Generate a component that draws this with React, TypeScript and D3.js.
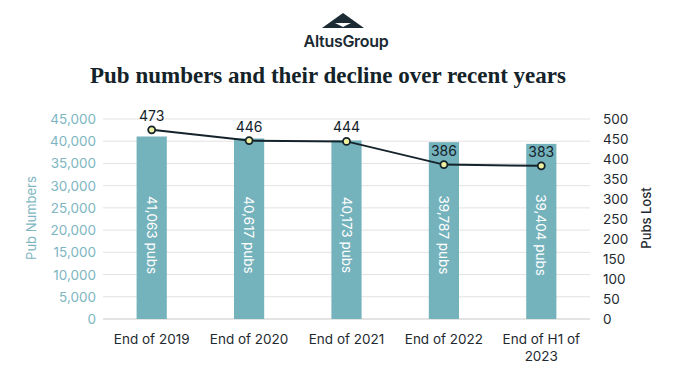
import React from "react";
import * as d3 from "d3";

const categories = ["End of 2019", "End of 2020", "End of 2021", "End of 2022", "End of H1 of 2023"];
const pubNumbers = [41063, 40617, 40173, 39787, 39404];
const pubsLost = [473, 446, 444, 386, 383];
const leftTicks = [0, 5000, 10000, 15000, 20000, 25000, 30000, 35000, 40000, 45000];
const rightTicks = [0, 50, 100, 150, 200, 250, 300, 350, 400, 450, 500];

const W = 674, H = 368;
const FONT = "Inter, 'Open Sans', sans-serif";

export default function App() {
  const x = d3.scaleBand<string>().domain(categories).range([103, 590]).paddingInner(0.69).paddingOuter(0.345);
  const yL = d3.scaleLinear().domain([0, 45000]).range([319, 119]);
  const yR = d3.scaleLinear().domain([0, 500]).range([319, 119]);
  const fmt = d3.format(",");
  const cx = (c: string) => (x(c) ?? 0) + x.bandwidth() / 2;
  const line = d3.line<number>().x((_, i) => cx(categories[i])).y((d) => yR(d));

  return (
    <svg width={W} height={H} style={{ position: "absolute", left: 0, top: 0, background: "#fff" }}>
      {/* logo */}
      <path d="M343,13 L364,28 L322,28 Z" fill="#1b2a33" />
      <path d="M335,23 L351,23 L343,27 Z" fill="#fff" />
      <text x={346} y={47} textAnchor="middle" fontFamily={FONT} fontSize={16} fontWeight={600} fill="#1b2a33" letterSpacing={-0.3}>AltusGroup</text>
      <text x={328} y={83} textAnchor="middle" fontFamily="'Liberation Serif', 'DejaVu Serif', serif" fontSize={23} fontWeight={700} fill="#142229">Pub numbers and their decline over recent years</text>

      {/* gridlines */}
      {leftTicks.map((t) => (
        <line key={t} x1={103} x2={590} y1={yL(t)} y2={yL(t)} stroke={t === 0 ? "#c8c8c8" : "#e2e2e2"} strokeWidth={1} />
      ))}

      {/* bars */}
      {pubNumbers.map((v, i) => (
        <rect key={i} x={x(categories[i])} y={yL(v)} width={x.bandwidth()} height={319 - yL(v)} fill="#74b2bc" />
      ))}
      {pubNumbers.map((v, i) => (
        <text key={i} transform={`translate(${cx(categories[i])},235) rotate(90)`} textAnchor="middle" dominantBaseline="central" fontFamily={FONT} fontSize={13.5} fill="#fff">{`${fmt(v)} pubs`}</text>
      ))}

      {/* left axis */}
      {leftTicks.map((t) => (
        <text key={t} x={96} y={yL(t)} textAnchor="end" dominantBaseline="central" fontFamily={FONT} fontSize={13.5} fill="#7db6c2">{fmt(t)}</text>
      ))}
      <text transform="translate(31,218) rotate(-90)" textAnchor="middle" dominantBaseline="central" fontFamily={FONT} fontSize={13} fill="#7db6c2">Pub Numbers</text>

      {/* right axis */}
      {rightTicks.map((t) => (
        <text key={t} x={603} y={yR(t)} textAnchor="start" dominantBaseline="central" fontFamily={FONT} fontSize={13.5} fill="#1e2a30">{t}</text>
      ))}
      <text transform="translate(646,218) rotate(-90)" textAnchor="middle" dominantBaseline="central" fontFamily={FONT} fontSize={13} fontWeight={500} fill="#1e2a30">Pubs Lost</text>

      {/* line */}
      <path d={line(pubsLost) ?? ""} fill="none" stroke="#14232b" strokeWidth={2} />
      {pubsLost.map((v, i) => (
        <g key={i}>
          <circle cx={cx(categories[i])} cy={yR(v)} r={3.5} fill="#eef0a0" stroke="#14232b" strokeWidth={1.8} />
          <text x={cx(categories[i])} y={yR(v) - 9} textAnchor="middle" fontFamily={FONT} fontSize={14} fill="#14232b">{v}</text>
        </g>
      ))}

      {/* x labels */}
      {categories.map((c) => {
        const parts = c === "End of H1 of 2023" ? ["End of H1 of", "2023"] : [c];
        return parts.map((p, j) => (
          <text key={c + j} x={cx(c)} y={344 + j * 17} textAnchor="middle" fontFamily={FONT} fontSize={13.5} fill="#1e2a30">{p}</text>
        ));
      })}
    </svg>
  );
}
